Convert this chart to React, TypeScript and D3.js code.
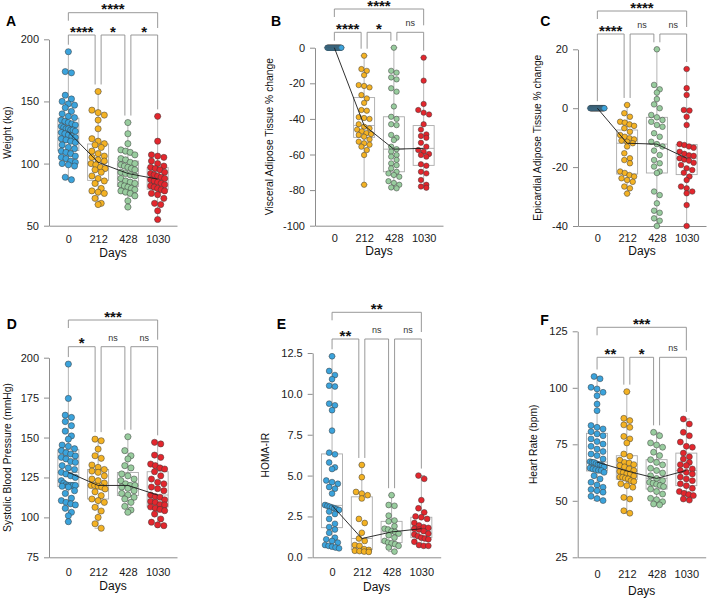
import React, { useEffect, useRef } from 'react';
import * as d3 from 'd3';

const days = ['0', '212', '428', '1030'];
const groupColors = ['#3ba3dc', '#f4b223', '#98cc9e', '#e3262d'];

// Panel A: Weight (kg)
const weight0 = [190, 174, 173, 155, 152, 150, 148, 147, 145, 142, 140, 138, 137, 135, 134, 133, 132, 131, 130, 129, 128, 128, 127, 127, 126, 125, 124, 123, 122, 121, 120, 119, 118, 117, 115, 113, 112, 110, 109, 108, 106, 105, 104, 102, 101, 100, 99, 98, 89, 87];
const weight212 = [158, 143, 141, 139, 135, 128, 120, 118, 116, 115, 113, 110, 108, 106, 105, 103, 102, 100, 99, 97, 96, 95, 93, 90, 88, 86, 84, 80, 78, 77, 76, 72, 68, 67];
const weight428 = [133, 124, 116, 111, 110, 109, 107, 104, 103, 101, 100, 99, 98, 97, 96, 95, 93, 92, 91, 90, 88, 86, 85, 84, 83, 82, 81, 80, 79, 78, 77, 76, 74, 70, 65];
const weight1030 = [138, 118, 107, 106, 105, 102, 100, 98, 97, 96, 95, 93, 92, 91, 90, 89, 88, 87, 86, 85, 84, 83, 82, 81, 80, 79, 78, 76, 75, 72, 68, 67, 62, 55];

// Panel B: Visceral adipose tissue % change
const vat0 = [0, 0, 0, 0, 0, 0, 0, 0, 0, 0, 0, 0, 0, 0, 0, 0, 0, 0, 0, 0, 0, 0, 0, 0, 0, 0, 0, 0, 0, 0];
const vat212 = [-4.5, -12, -13, -15.4, -21, -21.5, -22.3, -26.6, -28.5, -31, -35, -35.4, -39, -39.5, -40, -43, -44.4, -45.3, -46, -47, -48, -48.5, -49, -50, -51.5, -52.8, -53.7, -54.5, -55.6, -57.5, -60.3, -77];
const vat428 = [0, -13, -14, -16.7, -17.8, -22.8, -24.7, -33, -38.8, -40, -43, -43.5, -49, -50.6, -51.9, -55.6, -57, -58.4, -60.3, -61.2, -63, -65, -66, -67.8, -69.7, -70.6, -71.5, -72.5, -75, -76, -77, -78.5, -79];
const vat1030 = [-5.6, -18.5, -31.6, -35, -36.5, -37.5, -43, -46, -48.7, -49.6, -50.6, -53.4, -55.6, -57.5, -58.4, -59.7, -60.3, -61.2, -65.5, -66.3, -69.7, -70.6, -74.3, -77, -78, -78.7];

// Panel C: Epicardial adipose tissue % change
const eat0 = [0, 0, 0, 0, 0, 0, 0, 0, 0, 0, 0, 0, 0, 0, 0, 0, 0, 0, 0, 0, 0, 0, 0, 0, 0, 0, 0, 0, 0, 0];
const eat212 = [1.1, -1.7, -2.9, -4.6, -4.9, -5.5, -6, -6.8, -8, -9.1, -9.7, -10.2, -10.6, -11, -11.4, -11.9, -13, -15.3, -17, -17.6, -18.7, -21.5, -22, -22.7, -23.2, -23.8, -24.4, -25, -26.6, -27.2, -29];
const eat428 = [20, 7.9, 6.4, 5.3, 3.1, 1.3, 0, -2.3, -3.1, -4, -4.6, -5.7, -6.3, -8.5, -9.7, -11.4, -12.2, -13, -14.4, -15.9, -17.6, -18.7, -19.8, -21.5, -22, -28.3, -29.5, -32.3, -34.8, -35.5, -37.4, -38.2, -40];
const eat1030 = [13.3, 6.8, 4.5, -0.6, -0.8, -2.9, -5.7, -12.2, -12.5, -13, -13.4, -14.8, -15.5, -16, -16.2, -17, -17.4, -17.8, -18.5, -19.3, -20.4, -21, -21.9, -23.2, -24.4, -26.6, -27.2, -28.3, -28.9, -32.9, -40];

// Panel D: Systolic blood pressure (mmHg)
const sbp0 = [196, 174.5, 164, 162.6, 160, 157.4, 154, 151, 149, 145.3, 144.5, 143, 141.8, 140.5, 139.7, 138.5, 137.6, 136.6, 135, 134.5, 132.4, 131, 130, 128.2, 127.2, 126, 125, 123, 121.5, 120.5, 120, 120, 120, 120, 119.5, 119, 116.7, 115, 112, 110.5, 109.4, 108.5, 107.8, 105.7, 103.2, 101, 97.3];
const sbp212 = [149, 148, 142.8, 138.6, 137, 132.8, 131.3, 130, 129, 128.2, 126, 124, 123, 121.5, 120, 120, 119.5, 119, 117.8, 116, 113.6, 111.5, 110.5, 109.4, 106.3, 104, 100, 96, 93.2];
const sbp428 = [150.5, 141.8, 138.6, 136.6, 132.4, 131, 127.2, 126, 124, 123, 121, 120, 120, 119, 118.2, 116.7, 115, 114, 112.6, 111.5, 109.4, 106.9, 104.6, 103.2];
const sbp1030 = [147, 146, 139, 137.6, 133.4, 132.4, 131, 130.3, 128.6, 126, 124, 122, 121, 119, 118, 116.7, 114, 113, 112.6, 111, 110, 109.4, 108, 107.8, 106.5, 105.7, 105, 104.2, 102.1, 99, 97, 95.3, 94.8];

// Panel E: HOMA-IR
const homa0 = [12.3, 11.4, 11.15, 10.9, 10.5, 10.45, 9.4, 9.3, 9.0, 7.75, 6.4, 6.3, 5.8, 5.5, 5.4, 4.7, 4.6, 4.5, 4.3, 4.2, 3.9, 3.2, 3.15, 3.1, 3.05, 3.0, 2.95, 2.9, 2.8, 2.65, 2.35, 2.05, 1.85, 1.7, 1.5, 1.2, 1.1, 1.0, 0.9, 0.75, 0.7, 0.65, 0.6, 0.55];
const homa212 = [5.65, 4.9, 4.0, 3.9, 3.8, 3.6, 2.35, 2.1, 1.5, 1.15, 1.0, 0.75, 0.7, 0.5, 0.45, 0.4, 0.38, 0.35, 0.33];
const homa428 = [3.8, 3.2, 3.15, 2.55, 2.25, 2.2, 1.9, 1.75, 1.7, 1.6, 1.55, 1.45, 1.35, 1.2, 1.0, 0.9, 0.85, 0.8, 0.7, 0.6, 0.35];
const homa1030 = [5.0, 4.8, 3.5, 3.0, 2.75, 2.5, 2.45, 2.35, 2.1, 1.95, 1.85, 1.8, 1.75, 1.7, 1.6, 1.45, 1.4, 1.3, 1.2, 1.15, 1.1, 0.95, 0.75, 0.7, 0.7];

// Panel F: Heart rate (bpm)
const hr0 = [105, 104, 100.2, 99.5, 98, 96.5, 92.8, 89.9, 83.3, 82.5, 81.8, 80.6, 79.6, 78.8, 77.4, 76.2, 75.1, 74.1, 72.9, 71.8, 70.7, 70, 68.5, 67.3, 67, 67, 66.5, 66, 66, 65.6, 65, 64.5, 64.1, 63.8, 63.5, 63.4, 62.6, 61.1, 59.7, 58.2, 57, 56, 55, 54.5, 53.8, 52, 51, 50.1];
const hr212 = [98.3, 86.5, 85.5, 83.6, 82.5, 78.5, 77.4, 75.6, 70.7, 69.7, 68, 67, 66.7, 66, 65.6, 65, 64.1, 63.4, 63, 62.6, 62, 61.9, 61, 60.5, 60.4, 60, 59.7, 58.9, 58.5, 57.5, 56.7, 56, 51.5, 50.8, 45.6, 44.5];
const hr428 = [80.3, 78.8, 75.6, 74.7, 73.7, 71.5, 70, 68.2, 67, 65.9, 64.4, 63.4, 62.3, 61.1, 59.9, 58.9, 58.2, 57.8, 57.3, 56.8, 56.3, 55.2, 54.1, 53, 51.1, 50.5, 49.6, 48.6, 48.2];
const hr1030 = [86.2, 84, 80.3, 78.8, 76, 74.1, 73.7, 71.1, 69.5, 68.5, 67, 66, 65.6, 64.1, 63.4, 62.6, 61.9, 60.5, 59.7, 58.9, 57.5, 56.7, 55.5, 54.1, 53.3, 52.8, 52.3, 50.8, 50.3];

// Tick values and significance labels
const ticksA = [50, 100, 150, 200];
const ticksB = [-100, -80, -60, -40, -20, 0];
const ticksC = [-40, -20, 0, 20];
const ticksD = [75, 100, 125, 150, 175, 200];
const ticksE = [0, 2.5, 5, 7.5, 10, 12.5];
const ticksF = [25, 50, 75, 100, 125];

const sigA = ['****', '****', '*', '*'];
const sigB = ['****', '****', '*', 'ns'];
const sigC = ['****', '****', 'ns', 'ns'];
const sigD = ['***', '*', 'ns', 'ns'];
const sigE = ['**', '**', 'ns', 'ns'];
const sigF = ['***', '**', '*', 'ns'];

const FONT = '"Liberation Sans", Arial, Helvetica, sans-serif';
const AXIS = '#8d8d8d';
const BOX = '#ababab';

type PanelCfg = {
  letter: string;
  yLabel: string;
  groups: number[][];
  domain: [number, number];
  ticks: number[];
  fmt: (d: number) => string;
  sig: string[];
  axisX: number;
  yTop: number;
  yBot: number;
  topLine: number;
  row2: number;
  letterX: number;
  letterY: number;
  yLabelX: number;
  r: number;
  xPad: number;
  daysY: number;
};

const plain = (d: number) => String(d);
const oneDec = d3.format('.1f');

const panels: PanelCfg[] = [
  { letter: 'A', yLabel: 'Weight (kg)', groups: [weight0, weight212, weight428, weight1030], domain: [50, 200], ticks: ticksA, fmt: plain, sig: sigA,
    axisX: 49, yTop: 39.3, yBot: 225.7, topLine: 12.7, row2: 35, letterX: 6, letterY: 25.7, yLabelX: 7.5, r: 3.1, xPad: 9.4, daysY: 257 },
  { letter: 'B', yLabel: 'Visceral Adipose Tissue % change', groups: [vat0, vat212, vat428, vat1030], domain: [-100, 0], ticks: ticksB, fmt: plain, sig: sigB,
    axisX: 315, yTop: 47.7, yBot: 225.7, topLine: 9, row2: 32.3, letterX: 271, letterY: 25.7, yLabelX: 269, r: 2.7, xPad: 8.4, daysY: 255 },
  { letter: 'C', yLabel: 'Epicardial Adipose Tissue % change', groups: [eat0, eat212, eat428, eat1030], domain: [-40, 20], ticks: ticksC, fmt: plain, sig: sigC,
    axisX: 578, yTop: 49.3, yBot: 226, topLine: 11, row2: 34, letterX: 540.3, letterY: 25.7, yLabelX: 537.3, r: 2.8, xPad: 8, daysY: 255 },
  { letter: 'D', yLabel: 'Systolic Blood Pressure (mmHg)', groups: [sbp0, sbp212, sbp428, sbp1030], domain: [75, 200], ticks: ticksD, fmt: plain, sig: sigD,
    axisX: 49, yTop: 357.7, yBot: 557.3, topLine: 320, row2: 346.7, letterX: 6.7, letterY: 329, yLabelX: 7.5, r: 3.1, xPad: 10.5, daysY: 590 },
  { letter: 'E', yLabel: 'HOMA-IR', groups: [homa0, homa212, homa428, homa1030], domain: [0, 12.5], ticks: ticksE, fmt: oneDec, sig: sigE,
    axisX: 312.7, yTop: 353, yBot: 557.3, topLine: 312.3, row2: 339, letterX: 276.7, letterY: 329, yLabelX: 265.3, r: 2.9, xPad: 11, daysY: 591 },
  { letter: 'F', yLabel: 'Heart Rate (bpm)', groups: [hr0, hr212, hr428, hr1030], domain: [25, 125], ticks: ticksF, fmt: plain, sig: sigF,
    axisX: 577.7, yTop: 331.3, yBot: 557.3, topLine: 327.3, row2: 357.3, letterX: 540.3, letterY: 324.7, yLabelX: 533.7, r: 3.0, xPad: 12.8, daysY: 594.7 },
];

type Pt = { v: number; py: number; dx: number };

function swarm(vals: number[], y: (v: number) => number, r: number, maxHalf: number): Pt[] {
  const pts: Pt[] = vals.map((v) => ({ v, py: y(v), dx: 0 })).sort((a, b) => a.py - b.py);
  const bins: Pt[][] = [];
  let cur: Pt[] = [];
  for (const p of pts) {
    if (cur.length && p.py - cur[0].py >= 2 * r * 0.9) {
      bins.push(cur);
      cur = [];
    }
    cur.push(p);
  }
  if (cur.length) bins.push(cur);
  for (const b of bins) {
    const n = b.length;
    const step = n > 1 ? Math.min(2 * r, (2 * maxHalf) / (n - 1)) : 0;
    b.forEach((p, i) => {
      p.dx = (i - (n - 1) / 2) * step;
    });
  }
  return pts;
}

function YAxis({ scale, x, ticks, fmt }: { scale: d3.ScaleLinear<number, number>; x: number; ticks: number[]; fmt: (d: number) => string }) {
  const ref = useRef<SVGGElement>(null);
  useEffect(() => {
    if (!ref.current) return;
    const ax = d3.axisLeft(scale).tickValues(ticks).tickSize(5).tickSizeOuter(0).tickPadding(5).tickFormat((d) => fmt(d as number));
    const g = d3.select(ref.current);
    g.call(ax as any);
    g.attr('font-family', FONT).attr('font-size', 11);
    g.select('.domain').attr('stroke', AXIS).attr('stroke-width', 1);
    g.selectAll('.tick line').attr('stroke', AXIS);
    g.selectAll('.tick text').attr('fill', '#1a1a1a');
  });
  return <g ref={ref} transform={`translate(${x},0)`} />;
}

function XAxis({ scale, y, pad }: { scale: d3.ScalePoint<string>; y: number; pad: number }) {
  const ref = useRef<SVGGElement>(null);
  useEffect(() => {
    if (!ref.current) return;
    const ax = d3.axisBottom(scale).tickSize(0).tickSizeOuter(0).tickPadding(pad);
    const g = d3.select(ref.current);
    g.call(ax as any);
    g.attr('font-family', FONT).attr('font-size', 11);
    g.select('.domain').attr('stroke', AXIS).attr('stroke-width', 1);
    g.selectAll('.tick text').attr('fill', '#1a1a1a');
  });
  return <g ref={ref} transform={`translate(0,${y})`} />;
}

function Panel({ cfg }: { cfg: PanelCfg }) {
  const y = d3.scaleLinear().domain(cfg.domain).range([cfg.yBot, cfg.yTop]);
  const x = d3.scalePoint<string>().domain(days).range([cfg.axisX, cfg.axisX + 128]).padding(0.65);
  const cx = (i: number) => x(days[i]) as number;
  const stats = cfg.groups.map((g) => {
    const s = [...g].sort((a, b) => a - b);
    return {
      min: s[0],
      max: s[s.length - 1],
      q1: d3.quantile(s, 0.25) as number,
      med: d3.median(s) as number,
      q3: d3.quantile(s, 0.75) as number,
    };
  });
  const swarms = cfg.groups.map((g) => swarm(g, y, cfg.r, 7));
  const medLine = d3
    .line<number>()
    .x((_, i) => cx(i))
    .y((d) => y(d))(stats.map((s) => s.med));
  const legEnd = (i: number) => Math.max(cfg.row2 + 7, y(stats[i].max) - 7);
  const bw = 10.5;
  const midX = (cx(0) + cx(3)) / 2;

  const sigText = (label: string, xm: number, line: number, key: string) =>
    label === 'ns' ? (
      <text key={key} x={xm} y={line - 6} textAnchor="middle" fontSize={9} fill="#333" fontFamily={FONT}>
        ns
      </text>
    ) : (
      <text key={key} x={xm} y={line + 1.5} textAnchor="middle" fontSize={15} fontWeight="bold" fill="#111" fontFamily={FONT}>
        {label}
      </text>
    );

  return (
    <g>
      <text x={cfg.letterX} y={cfg.letterY} fontSize={14} fontWeight="bold" fontFamily={FONT} fill="#000">
        {cfg.letter}
      </text>
      <text
        transform={`translate(${cfg.yLabelX},${(cfg.yTop + cfg.yBot) / 2}) rotate(-90)`}
        textAnchor="middle"
        dy="0.35em"
        fontSize={10.3}
        fontFamily={FONT}
        fill="#111"
      >
        {cfg.yLabel}
      </text>
      <YAxis scale={y} x={cfg.axisX} ticks={cfg.ticks} fmt={cfg.fmt} />
      <XAxis scale={x} y={cfg.yBot} pad={cfg.xPad} />
      <text x={midX} y={cfg.daysY} textAnchor="middle" fontSize={12} fontFamily={FONT} fill="#111">
        Days
      </text>

      {/* boxes and whiskers */}
      {stats.map((s, i) => (
        <g key={'box' + i} stroke={BOX} strokeWidth={0.9} fill="none">
          <line x1={cx(i)} x2={cx(i)} y1={y(s.max)} y2={y(s.q3)} />
          <line x1={cx(i)} x2={cx(i)} y1={y(s.q1)} y2={y(s.min)} />
          <line x1={cx(i) - 3.5} x2={cx(i) + 3.5} y1={y(s.max)} y2={y(s.max)} />
          <line x1={cx(i) - 3.5} x2={cx(i) + 3.5} y1={y(s.min)} y2={y(s.min)} />
          <rect x={cx(i) - bw} width={2 * bw} y={y(s.q3)} height={Math.max(0, y(s.q1) - y(s.q3))} />
          <line x1={cx(i) - bw} x2={cx(i) + bw} y1={y(s.med)} y2={y(s.med)} />
        </g>
      ))}

      {/* points */}
      {swarms.map((pts, i) => (
        <g key={'pts' + i}>
          {pts.map((p, j) => (
            <circle key={j} cx={cx(i) + p.dx} cy={p.py} r={cfg.r} fill={groupColors[i]} stroke="#3a3a3a" strokeWidth={0.5} />
          ))}
        </g>
      ))}

      {/* median connecting line */}
      <path d={medLine || ''} fill="none" stroke="#1a1a1a" strokeWidth={0.9} />

      {/* significance brackets */}
      <g stroke={AXIS} strokeWidth={0.9} fill="none">
        <path d={`M${cx(0)},${cfg.topLine + 8}V${cfg.topLine}H${cx(3)}V${cfg.row2 - 7}`} />
        {[0, 1, 2].map((i) => {
          const x1 = cx(i) + (i > 0 ? 3 : 0);
          const x2 = cx(i + 1) - (i + 1 < 3 ? 3 : 0);
          return <path key={'br' + i} d={`M${x1},${legEnd(i)}V${cfg.row2}H${x2}V${legEnd(i + 1)}`} />;
        })}
      </g>
      {sigText(cfg.sig[0], midX, cfg.topLine, 'st')}
      {[0, 1, 2].map((i) => {
        const x1 = cx(i) + (i > 0 ? 3 : 0);
        const x2 = cx(i + 1) - (i + 1 < 3 ? 3 : 0);
        return sigText(cfg.sig[i + 1], (x1 + x2) / 2, cfg.row2, 's' + i);
      })}
    </g>
  );
}

export default function App() {
  return (
    <svg
      width={708}
      height={599}
      viewBox="0 0 708 599"
      style={{ position: 'absolute', left: 0, top: 0, background: '#fff' }}
    >
      <rect width={708} height={599} fill="#fff" />
      {panels.map((p) => (
        <Panel key={p.letter} cfg={p} />
      ))}
    </svg>
  );
}
